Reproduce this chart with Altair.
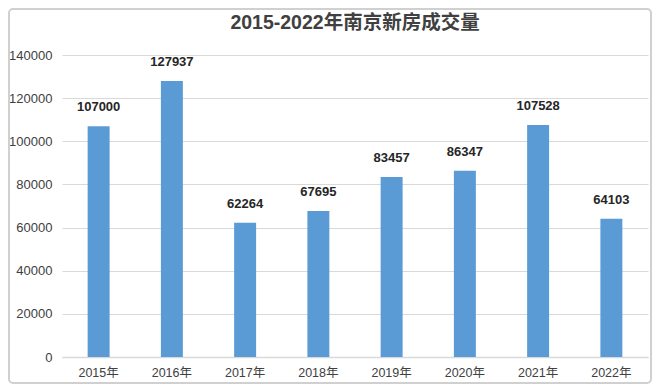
import altair as alt
import pandas as pd

years = ["2015年", "2016年", "2017年", "2018年", "2019年", "2020年", "2021年", "2022年"]
values = [107000, 127937, 62264, 67695, 83457, 86347, 107528, 64103]
title_text = ["2015-2022年南京新房成交量"]

df = pd.DataFrame({"year": years, "value": values})
tdf = pd.DataFrame({"t": title_text})
FONT = "Liberation Sans, Noto Sans CJK SC, sans-serif"

base = alt.Chart(df)

border = alt.Chart(tdf).mark_rect(fillOpacity=0, stroke="#d0d0d0", strokeWidth=2, cornerRadius=4).encode(
    x=alt.value(-53), x2=alt.value(589), y=alt.value(-46), y2=alt.value(328)
)

title = alt.Chart(tdf).mark_text(fontSize=19.5, fontWeight="bold", color="#404040",
                                 font=FONT, baseline="middle", align="center").encode(
    x=alt.value(293), y=alt.value(-32), text="t:N"
)

bars = base.mark_bar(color="#5B9BD5").encode(
    x=alt.X("year:N", sort=years, title=None,
            scale=alt.Scale(paddingInner=0.7, paddingOuter=0.35),
            axis=alt.Axis(labelAngle=0, labelFontSize=12.5, labelColor="#404040",
                          labelFont=FONT, labelPadding=9, ticks=False,
                          domainColor="#d9d9d9", domainWidth=1.5)),
    y=alt.Y("value:Q", title=None,
            scale=alt.Scale(domain=[0, 140000]),
            axis=alt.Axis(values=list(range(0, 140001, 20000)), labelFontSize=13,
                          labelColor="#404040", labelFont=FONT, labelPadding=10,
                          ticks=False, domain=False, gridColor="#d9d9d9", gridWidth=1.2,
                          format="d")),
)

labels = base.mark_text(dy=-12, baseline="bottom", fontWeight="bold", fontSize=13,
                        font=FONT, color="#262626").encode(
    x=alt.X("year:N", sort=years),
    y="value:Q",
    text="value:Q",
)

chart = alt.layer(border, bars, labels, title).properties(
    width=586, height=302,
    padding={"left": 54, "top": 47, "right": 4, "bottom": 27},
    autosize=alt.AutoSizeParams(type="none"),
).configure_view(stroke=None)

chart.save("out.html", embed_options={"renderer": "svg", "actions": False})
